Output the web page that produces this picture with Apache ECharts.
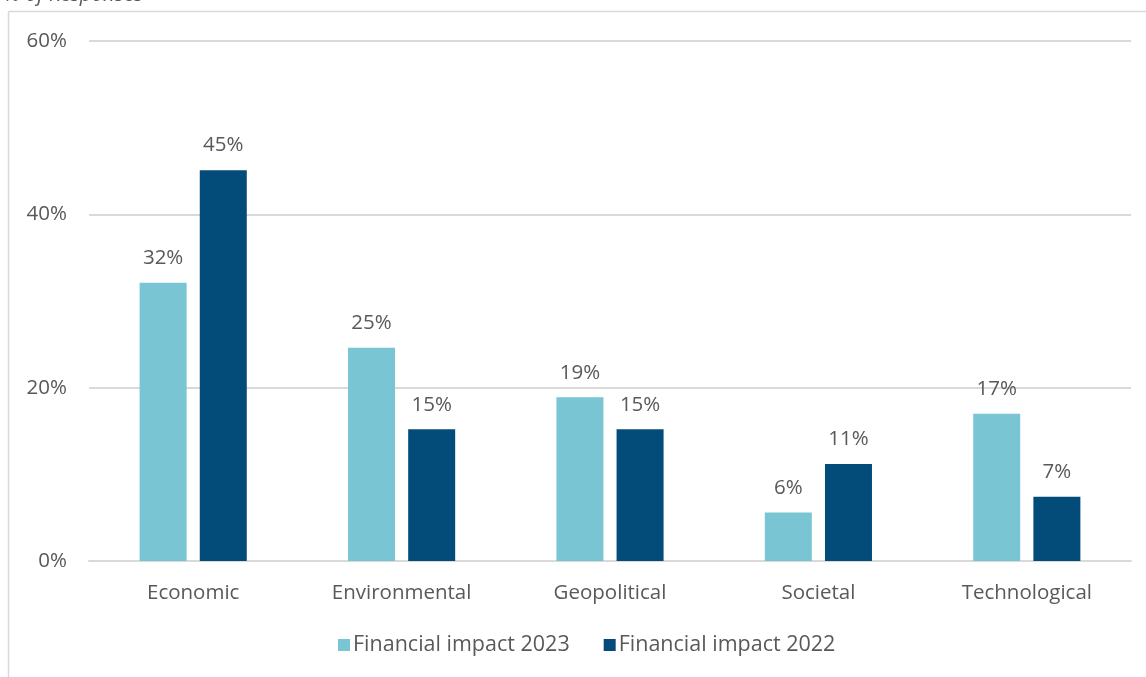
<!DOCTYPE html>
<html>
<head>
<meta charset="UTF-8">
<title>Financial impact</title>
<script src="https://cdn.jsdelivr.net/npm/echarts@6/dist/echarts.min.js"></script>
<style>
  html, body { margin: 0; padding: 0; background: #fff; }
  #chart { width: 1146px; height: 677px; }
</style>
</head>
<body>
<div id="chart"></div>
<script>
    // categories and values
    var categories = ['Economic', 'Environmental', 'Geopolitical', 'Societal', 'Technological'];
    var impact2023 = [32.1, 24.6, 18.9, 5.6, 17.0];
    var impact2022 = [45.1, 15.2, 15.2, 11.2, 7.4];
    var yTicks = [0, 20, 40, 60];

    var textColor = '#595959';
    var font = '"Open Sans", "Noto Sans", sans-serif';
    var fs = 20.5;

    var myChart = echarts.init(document.getElementById('chart'));
    var labelCfg = {
        show: true,
        position: 'top',
        distance: 14,
        color: textColor,
        fontFamily: font,
        fontSize: fs,
        formatter: function (p) { return Math.round(p.value) + '%'; }
    };
    var option = {
        animation: false,
        textStyle: { fontFamily: font },
        graphic: [
            // outer frame (left and top edges visible)
            { type: 'line', shape: { x1: 8.5, y1: 11.5, x2: 1146, y2: 11.5 }, style: { stroke: '#d9d9d9', lineWidth: 1.5 } },
            { type: 'line', shape: { x1: 8.5, y1: 11.5, x2: 8.5, y2: 677 }, style: { stroke: '#d9d9d9', lineWidth: 1.5 } },
            { type: 'text', left: 4, top: -15, style: { text: '% of Responses', fontFamily: font, fontSize: fs, fontStyle: 'italic', fill: textColor } }
        ],
        grid: { left: 89, right: 15, top: 41, bottom: 116 },
        legend: {
            bottom: 16,
            left: 333,
            itemWidth: 12,
            itemHeight: 12,
            itemGap: 34,
            icon: 'rect',
            textStyle: { color: textColor, fontSize: 21.5, fontFamily: font, padding: [0, 0, 0, -2] },
            data: ['Financial impact 2023', 'Financial impact 2022']
        },
        xAxis: {
            type: 'category',
            data: categories,
            axisLine: { lineStyle: { color: '#d9d9d9', width: 2 } },
            axisTick: { show: false },
            axisLabel: { color: textColor, fontSize: fs, fontFamily: font, margin: 22 }
        },
        yAxis: {
            type: 'value',
            min: yTicks[0],
            max: yTicks[yTicks.length - 1],
            interval: 20,
            axisLine: { show: false },
            axisTick: { show: false },
            splitLine: { lineStyle: { color: '#d9d9d9', width: 2 } },
            axisLabel: { color: textColor, fontSize: fs, fontFamily: font, margin: 22, formatter: '{value}%' }
        },
        series: [{
            name: 'Financial impact 2023',
            type: 'bar',
            data: impact2023,
            barWidth: 47,
            barGap: '28%',
            itemStyle: { color: '#7ac5d4' },
            label: labelCfg
        }, {
            name: 'Financial impact 2022',
            type: 'bar',
            data: impact2022,
            barWidth: 47,
            itemStyle: { color: '#034b79' },
            label: labelCfg
        }]
    };
    myChart.setOption(option);
</script>
</body>
</html>
